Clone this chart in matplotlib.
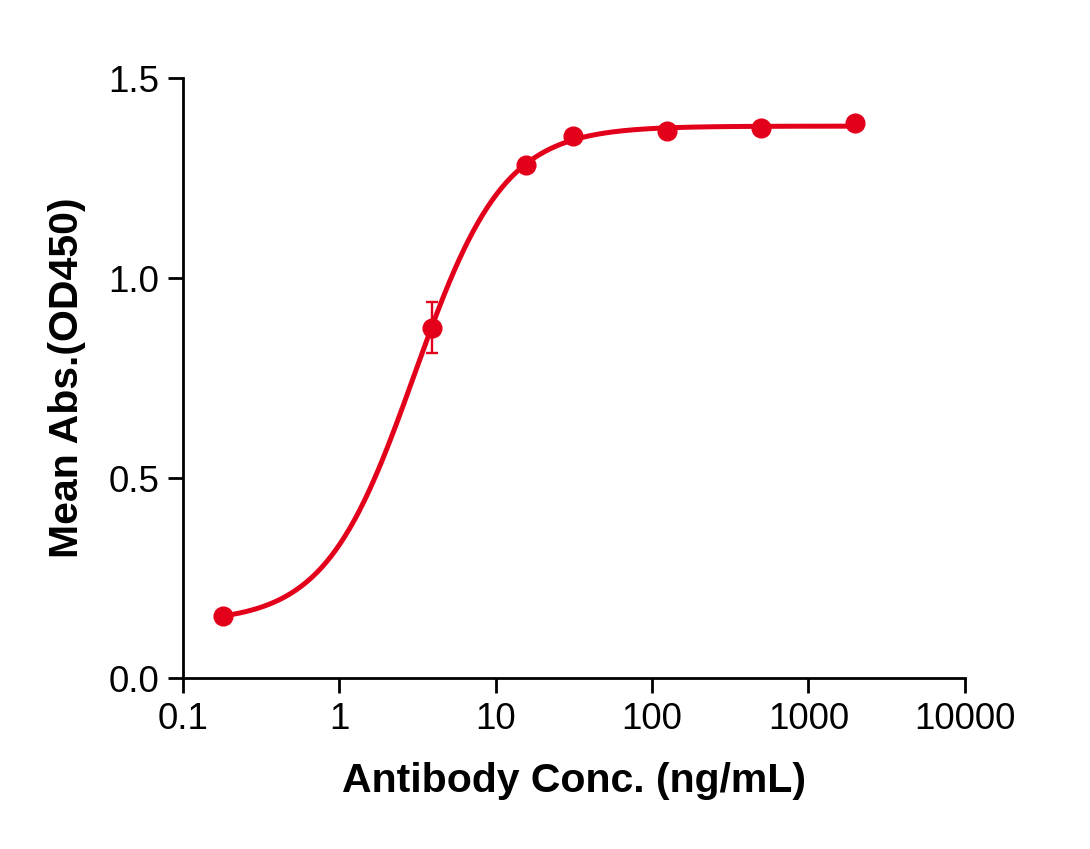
import numpy as np
import matplotlib
matplotlib.use('Agg')
import matplotlib.pyplot as plt

plt.rcParams['font.family'] = ['Liberation Sans', 'DejaVu Sans']

# data
conc = [0.18, 3.9, 15.6, 31.25, 125, 500, 2000]
od = [0.156, 0.876, 1.283, 1.354, 1.368, 1.375, 1.387]
err = [0, 0.063, 0, 0, 0, 0, 0]
xticks = [0.1, 1, 10, 100, 1000, 10000]
xticklabels = ['0.1', '1', '10', '100', '1000', '10000']
yticks = [0.0, 0.5, 1.0, 1.5]

red = '#E3001B'

# 4PL fit: grid over ec50/hill, bottom & top by linear least squares
x = np.array(conc)
y = np.array(od)
best = None
for lec in np.linspace(-0.5, 1.5, 201):
    for h in np.linspace(0.5, 3.0, 126):
        s = 1 / (1 + (10**lec / x)**h)
        A = np.column_stack([1 - s, s])
        coef, res, _, _ = np.linalg.lstsq(A, y, rcond=None)
        sse = np.sum((A @ coef - y)**2)
        if best is None or sse < best[0]:
            best = (sse, lec, h, coef)
_, lec, h, (bot, top) = best
xf = np.logspace(np.log10(conc[0]), np.log10(conc[-1]), 400)
yf = bot + (top - bot) / (1 + (10**lec / xf)**h)

fig = plt.figure(figsize=(10.9, 8.49), dpi=100)
ax = fig.add_axes([0.168, 0.2014, 0.717, 0.7066])
ax.plot(xf, yf, color=red, lw=3.6, zorder=2)
ax.errorbar(conc, od, yerr=err, fmt='o', color=red, ms=13.5, elinewidth=1.7,
            capsize=4.5, capthick=1.7, zorder=3)

ax.set_xscale('log')
ax.set_xlim(0.1, 10000)
ax.set_ylim(0, 1.5)
ax.set_xticks(xticks)
ax.set_xticklabels(xticklabels)
ax.xaxis.set_minor_locator(matplotlib.ticker.NullLocator())
ax.set_yticks(yticks)
ax.set_yticklabels(['0.0', '0.5', '1.0', '1.5'])

for sp in ['top', 'right']:
    ax.spines[sp].set_visible(False)
for sp in ['left', 'bottom']:
    ax.spines[sp].set_linewidth(2.0)
ax.tick_params(axis='both', length=11, width=2.0, labelsize=26.5, pad=6)

ax.set_xlabel('Antibody Conc. (ng/mL)', fontsize=29.5, fontweight='bold', labelpad=18)
ax.set_ylabel('Mean Abs.(OD450)', fontsize=29.5, fontweight='bold', labelpad=16)

fig.savefig('out.png', dpi=100)
